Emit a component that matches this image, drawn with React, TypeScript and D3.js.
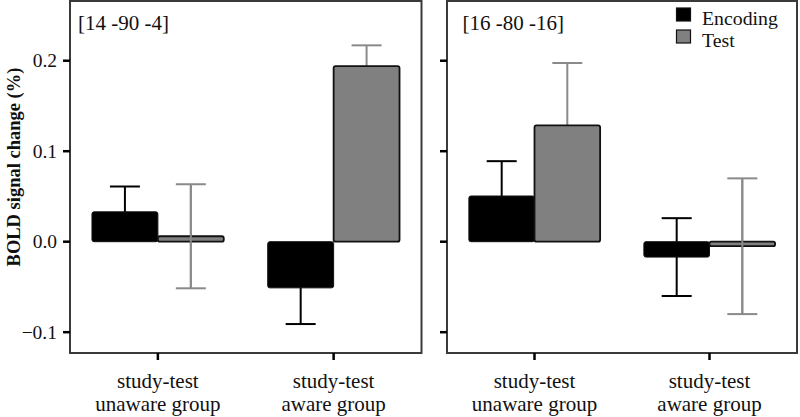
import React from "react";
import * as d3 from "d3";

const panels = ["[14 -90 -4]", "[16 -80 -16]"];
const groups = ["study-test\nunaware group", "study-test\naware group"];
const seriesNames = ["Encoding", "Test"];
// values[panel][group] for each series
const encodingValues = [
  [0.033, -0.051],
  [0.0505, -0.017],
];
const encodingErrors = [
  [0.028, 0.04],
  [0.0385, 0.043],
];
const testValues = [
  [0.006, 0.194],
  [0.1285, -0.005],
];
const testErrors = [
  [0.0575, 0.023],
  [0.069, 0.075],
];
const yTicks = [-0.1, 0.0, 0.1, 0.2];

const W = 800;
const H = 417;
const panelX = [
  [70, 421.5],
  [447, 797],
];
const top = 1;
const bottom = 353;
const font = "'Liberation Serif', 'Times New Roman', serif";
const colors = ["#000000", "#808080"];
const errColors = ["#000000", "#8a8a8a"];

export default function App() {
  const y = d3.scaleLinear().domain([-0.123, 0.266]).range([bottom, top]);
  const series = [
    { vals: encodingValues, errs: encodingErrors },
    { vals: testValues, errs: testErrors },
  ];
  return (
    <svg
      width={W}
      height={H}
      style={{ position: "absolute", left: 0, top: 0, background: "#fff" }}
      fontFamily={font}
    >
      {panels.map((label, pi) => {
        const [x0, x1] = panelX[pi];
        const x = d3
          .scaleBand()
          .domain(groups)
          .range([x0, x1])
          .paddingInner(0.25)
          .paddingOuter(0.125);
        const sub = d3
          .scaleBand()
          .domain(seriesNames)
          .range([0, x.bandwidth()]);
        return (
          <g key={pi}>
            {/* error bars (behind bars) */}
            {groups.map((g, gi) =>
              series.map((s, si) => {
                const v = s.vals[pi][gi];
                const e = s.errs[pi][gi];
                const cx = (x(g) as number) + (sub(seriesNames[si]) as number) + sub.bandwidth() / 2;
                const capW = 30;
                return (
                  <g key={`e${gi}${si}`} stroke={errColors[si]} strokeWidth={2}>
                    <line x1={cx} x2={cx} y1={y(v + e)} y2={y(v - e)} />
                    <line x1={cx - capW / 2} x2={cx + capW / 2} y1={y(v + e)} y2={y(v + e)} />
                    <line x1={cx - capW / 2} x2={cx + capW / 2} y1={y(v - e)} y2={y(v - e)} />
                  </g>
                );
              })
            )}
            {/* bars */}
            {groups.map((g, gi) =>
              series.map((s, si) => {
                const v = s.vals[pi][gi];
                const bx = (x(g) as number) + (sub(seriesNames[si]) as number);
                const y0 = y(Math.max(0, v));
                const h = Math.abs(y(v) - y(0));
                return (
                  <rect
                    key={`b${gi}${si}`}
                    x={bx}
                    y={y0}
                    width={sub.bandwidth()}
                    height={Math.max(h, 1)}
                    fill={colors[si]}
                    stroke="#111"
                    strokeWidth={si === 1 ? 1.8 : 1}
                    rx={2}
                  />
                );
              })
            )}
            {/* test error line through thin bars */}
            {groups.map((g, gi) => {
              const v = testValues[pi][gi];
              const e = testErrors[pi][gi];
              const cx = (x(g) as number) + (sub("Test") as number) + sub.bandwidth() / 2;
              if (Math.abs(y(v) - y(0)) > 10) return null;
              return (
                <line key={`t${gi}`} x1={cx} x2={cx} y1={y(v + e)} y2={y(v - e)} stroke={errColors[1]} strokeWidth={2} />
              );
            })}
            {/* frame */}
            <rect x={x0} y={top} width={x1 - x0} height={bottom - top} fill="none" stroke="#3a3a3a" strokeWidth={2} />
            {/* y ticks */}
            {yTicks.map((t) => (
              <g key={t}>
                <line x1={x0 - 7} x2={x0} y1={y(t)} y2={y(t)} stroke="#000" strokeWidth={2.5} />
                {pi === 0 && (
                  <text x={57} y={y(t) + 6.5} textAnchor="end" fontSize={19.5} fill="#111">
                    {d3.format(".1f")(t)}
                  </text>
                )}
              </g>
            ))}
            {/* x ticks + labels */}
            {groups.map((g) => {
              const cx = (x(g) as number) + x.bandwidth() / 2;
              const lines = g.split("\n");
              return (
                <g key={g}>
                  <line x1={cx} x2={cx} y1={bottom} y2={bottom + 7} stroke="#000" strokeWidth={2.5} />
                  {lines.map((ln, li) => (
                    <text key={li} x={cx} y={388 + li * 23} textAnchor="middle" fontSize={21} fill="#111">
                      {ln}
                    </text>
                  ))}
                </g>
              );
            })}
            <text x={pi === 0 ? 78 : 462.5} y={29.5} fontSize={21} fill="#111">
              {label}
            </text>
          </g>
        );
      })}
      {/* legend */}
      {seriesNames.map((s, i) => (
        <g key={s}>
          <rect x={676.5} y={8 + i * 22} width={14} height={13} fill={colors[i]} stroke="#111" strokeWidth={1.2} />
          <text x={702} y={24.5 + i * 22} fontSize={19.8} fill="#111">
            {s}
          </text>
        </g>
      ))}
      {/* y axis title */}
      <text
        transform={`translate(20,167) rotate(-90)`}
        textAnchor="middle"
        fontSize={18.5}
        fontWeight="bold"
        fill="#111"
      >
        BOLD signal change (%)
      </text>
    </svg>
  );
}
